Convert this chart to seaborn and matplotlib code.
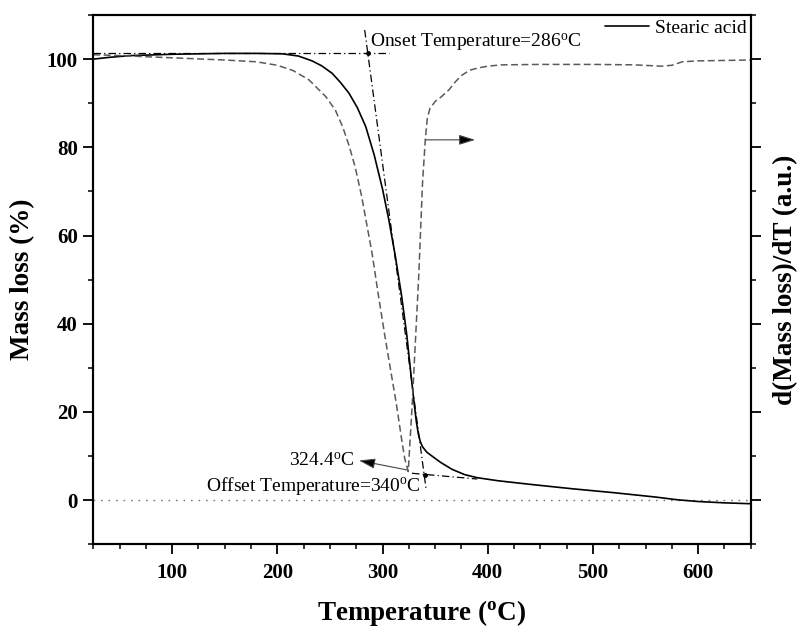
import numpy as np
import pandas as pd
import matplotlib
matplotlib.use("Agg")
import matplotlib.pyplot as plt
from matplotlib.ticker import MultipleLocator
import seaborn as sns

# Thermogravimetric curve of stearic acid (mass %, left axis)
tga_temp = [25, 40, 60, 100, 150, 180, 205, 220, 233, 242, 252, 260, 268, 276,
            284, 292, 300, 306, 312, 318, 323, 327, 330, 332, 334, 336, 338, 342,
            347, 355, 366, 378, 390, 410, 440, 480, 520, 560, 580, 600, 625, 650]
tga_mass = [100.0, 100.4, 100.8, 101.1, 101.3, 101.3, 101.2, 100.7, 99.6, 98.5,
            96.8, 94.7, 92.3, 89.0, 84.7, 78.3, 70.5, 63.5, 55.5, 46.5, 37.5,
            28.5, 22.0, 18.0, 15.0, 13.2, 12.1, 10.9, 10.0, 8.6, 7.0, 5.8, 5.1,
            4.4, 3.6, 2.6, 1.7, 0.7, 0.1, -0.3, -0.6, -0.8]

# Derivative curve (a.u., right axis)
dtg_temp = [25, 50, 100, 150, 180, 200, 215, 230, 246, 255, 262, 268, 274, 280,
            285, 290, 296, 302, 308, 313, 318, 321, 324.4, 328, 331, 334.4, 338,
            340.7, 342.5, 345, 350, 356, 363, 369, 375, 383, 391, 400, 413, 450,
            500, 540, 565, 575, 585, 600, 625, 650]
dtg_value = [101.0, 100.8, 100.3, 99.8, 99.4, 98.6, 97.4, 95.3, 91.5, 88.5, 84.7,
             80.5, 75.5, 69.0, 62.5, 56.0, 46.5, 37.5, 29.0, 22.0, 14.0, 9.5, 6.5,
             21.0, 35.0, 51.0, 72.0, 82.0, 86.5, 88.8, 90.4, 91.5, 93.0, 94.8,
             96.3, 97.5, 98.0, 98.4, 98.7, 98.8, 98.8, 98.7, 98.4, 98.6, 99.4,
             99.6, 99.7, 99.8]

# Tangent construction for onset / offset temperatures
onset_temp, onset_mass = 286, 101.3
offset_temp, offset_mass = 340, 5.8
peak_temp, peak_value = 324.4, 6.5
baseline_upper = ([25, 306], [101.3, 101.3])
steep_tangent = ([283, 341.5], [106.6, 2.3])
baseline_lower = ([328, 390], [6.1, 4.8])

series_label = "Stearic acid"
x_label = r"Temperature ($^{\mathbf{o}}$C)"
y_label_left = "Mass loss (%)"
y_label_right = "d(Mass loss)/dT (a.u.)"

sns.set_theme(style="ticks")
plt.rcParams["font.family"] = ["Liberation Serif", "DejaVu Serif"]
plt.rcParams["mathtext.fontset"] = "custom"
plt.rcParams["mathtext.rm"] = "Liberation Serif"
plt.rcParams["mathtext.bf"] = "Liberation Serif:bold"
plt.rcParams["mathtext.it"] = "Liberation Serif:italic"
for key in ("text.color", "axes.labelcolor", "xtick.color", "ytick.color",
            "axes.edgecolor"):
    plt.rcParams[key] = "black"

fig = plt.figure(figsize=(8.03, 6.31), dpi=100)
ax = fig.add_axes([0.1162, 0.1374, 0.8187, 0.8388])
ax2 = ax.twinx()

tga = pd.DataFrame({"T": tga_temp, "m": tga_mass})
dtg = pd.DataFrame({"T": dtg_temp, "d": dtg_value})

# zero reference line
ax.axhline(0, color="#777777", lw=1.0, dashes=(1.2, 4.2), zorder=1)

sns.lineplot(data=tga, x="T", y="m", ax=ax, color="black", lw=1.2,
             label=series_label, zorder=3)

dashdot = dict(color="black", lw=0.9, dashes=(6, 2.5, 1, 2.5), zorder=2)
ax.plot(*baseline_upper, **dashdot)
ax.plot(*steep_tangent, **dashdot)
ax.plot(*baseline_lower, **dashdot)
ax.plot([onset_temp, offset_temp], [onset_mass, offset_mass], "o",
        color="black", ms=2.5, zorder=4)

sns.lineplot(data=dtg, x="T", y="d", ax=ax2, color="#5a5a5a", lw=1.1,
             dashes=False, legend=False)
ax2.lines[-1].set_dashes((4.5, 2.3))

# annotations
ann_font = dict(fontsize=14, color="black")
arrow_style = dict(arrowstyle="-|>,head_length=0.7,head_width=0.22",
                   color="#444444", lw=0.8, shrinkA=0, shrinkB=0,
                   mutation_scale=14, fc="black")
ax.text(288.5, 103.8, r"Onset Temperature=286$^{\mathrm{o}}$C",
        ha="left", va="center", **ann_font)
ax.text(132.4, 3.2, r"Offset Temperature=340$^{\mathrm{o}}$C",
        ha="left", va="center", **ann_font)
ax.annotate("", xy=(277.6, 9.0), xytext=(peak_temp, peak_value + 0.3),
            arrowprops=arrow_style)
ax.text(272.8, 8.8, r"324.4$^{\mathrm{o}}$C", ha="right", va="center", **ann_font)
ax2.annotate("", xy=(388, 81.7), xytext=(340.7, 81.7), arrowprops=arrow_style)

for a in (ax, ax2):
    a.set_xlim(25, 650)
    a.set_ylim(-10, 110)
    a.yaxis.set_major_locator(MultipleLocator(20))
    a.yaxis.set_minor_locator(MultipleLocator(10))
    for s in a.spines.values():
        s.set_linewidth(1.5)
        s.set_color("black")

ax.xaxis.set_major_locator(MultipleLocator(100))
ax.xaxis.set_minor_locator(MultipleLocator(25))
ax.tick_params(axis="both", which="major", direction="out", length=7.2, width=1.3,
               labelsize=15, pad=4, colors="black")
ax.tick_params(axis="both", which="minor", direction="out", length=3.8, width=1.1,
               colors="black")
ax.tick_params(axis="x", which="major", pad=6)
ax2.tick_params(axis="y", which="major", direction="out", length=7.2, width=1.3,
                labelright=False, right=True, colors="black")
ax2.tick_params(axis="y", which="minor", direction="out", length=3.8, width=1.1,
                right=True, colors="black")
ax.tick_params(top=False, right=False, which="both")
for lbl in ax.get_xticklabels() + ax.get_yticklabels():
    lbl.set_fontweight("bold")

ax.set_xlabel(x_label, fontsize=19.5, fontweight="bold", labelpad=11, color="black")
ax.set_ylabel(y_label_left, fontsize=19.5, fontweight="bold", labelpad=8,
              color="black")
ax2.set_ylabel(y_label_right, fontsize=19.5, fontweight="bold", labelpad=9,
               color="black")

leg = ax.legend(loc="upper right", frameon=False, fontsize=14, handlelength=2.3,
                handletextpad=0.3, borderaxespad=0.1, borderpad=0.1)
for t in leg.get_texts():
    t.set_color("black")

fig.savefig("out.png", dpi=100)
